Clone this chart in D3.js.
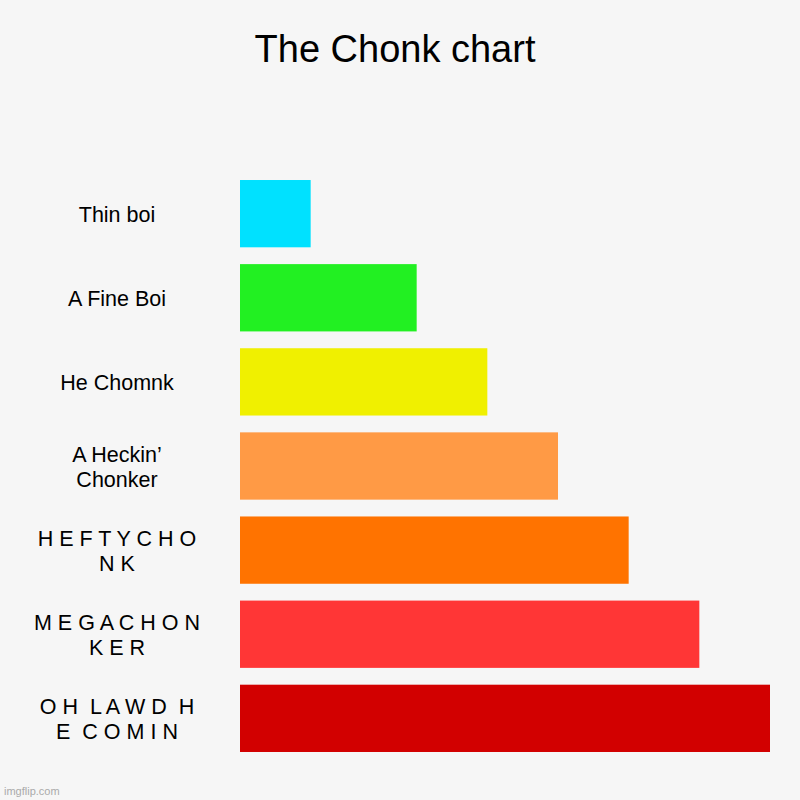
<!DOCTYPE html>
<html><head><meta charset="utf-8">
<script src="https://cdn.jsdelivr.net/npm/d3@7"></script>
<style>html,body{margin:0;padding:0;background:#f6f6f6;}svg{display:block;}</style>
</head><body>
<script>
const title = "The Chonk chart";
const categories = ["Thin boi","A Fine Boi","He Chomnk","A Heckin’ Chonker","HEFTYCHONK","MEGACHONKER","OH LAWD HE COMIN"];
const labelLines = [
  ["Thin boi"],
  ["A Fine Boi"],
  ["He Chomnk"],
  ["A Heckin’","Chonker"],
  ["H E F T Y C H O","N K"],
  ["M E G A C H O N","K E R"],
  ["O H  L A W D  H","E  C O M I N"]
];
const values = [2, 5, 7, 9, 11, 13, 15];
const colors = ["#00e1ff","#22f022","#f0f000","#ff9a45","#ff7300","#ff3636","#d20000"];

const W = 800, H = 800;
const svg = d3.select("body").append("svg").attr("width", W).attr("height", H);
svg.append("rect").attr("width", W).attr("height", H).attr("fill", "#f6f6f6");

svg.append("text").attr("x", 395).attr("y", 62).attr("text-anchor", "middle")
  .style("font-family", "Liberation Sans, Arial, sans-serif").style("font-size", "38px")
  .attr("fill", "#000").text(title);

const x = d3.scaleLinear().domain([0, d3.max(values)]).range([240, 770]);
const y = d3.scaleBand().domain(categories).range([171.6, 760.4]).paddingInner(0.2).paddingOuter(0.1);

svg.selectAll("rect.bar").data(values).enter().append("rect").attr("class", "bar")
  .attr("x", x(0)).attr("y", (d, i) => y(categories[i]))
  .attr("width", d => x(d) - x(0)).attr("height", y.bandwidth())
  .attr("fill", (d, i) => colors[i]);

const lh = 25;
categories.forEach((c, i) => {
  const lines = labelLines[i];
  const cy = y(c) + y.bandwidth() / 2;
  const t = svg.append("text").attr("text-anchor", "middle")
    .style("font-family", "Liberation Sans, Arial, sans-serif").style("font-size", "21.5px")
    .style("white-space", "pre").attr("fill", "#000");
  lines.forEach((l, j) => {
    t.append("tspan").attr("x", 117)
      .attr("y", cy + (j - (lines.length - 1) / 2) * lh + 8).text(l);
  });
});

svg.append("text").attr("x", 4).attr("y", 795)
  .style("font-family", "Liberation Sans, Arial, sans-serif").style("font-size", "11px")
  .attr("fill", "#aaaaaa").text("imgflip.com");
</script>
</body></html>
